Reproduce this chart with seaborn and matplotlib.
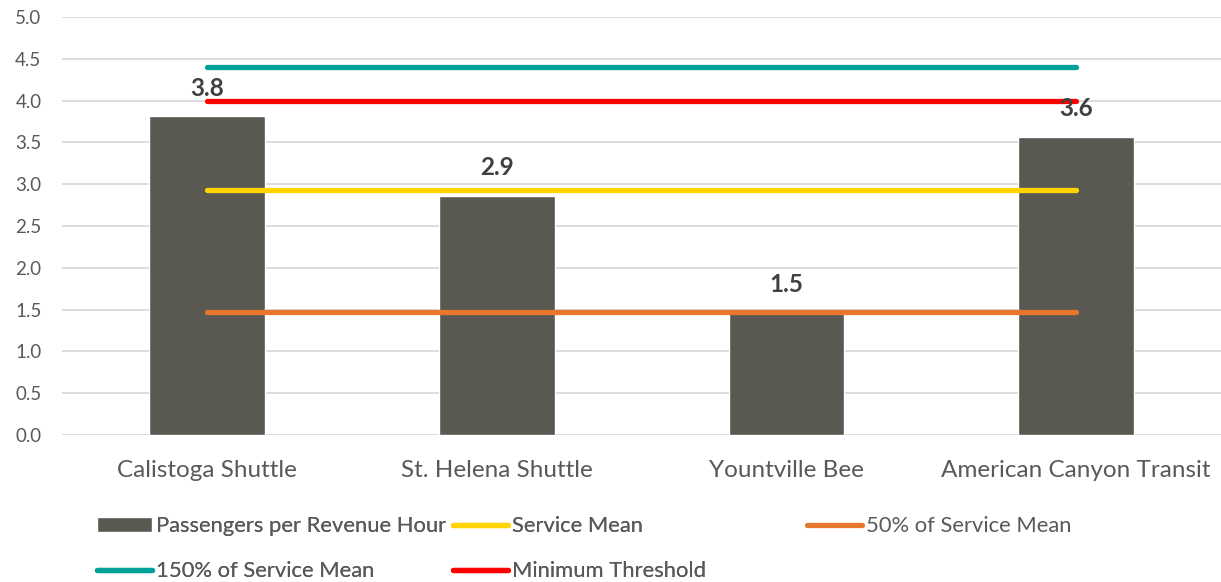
import matplotlib
matplotlib.use("Agg")
import matplotlib.pyplot as plt
import seaborn as sns
import pandas as pd

categories = ["Calistoga Shuttle", "St. Helena Shuttle", "Yountville Bee", "American Canyon Transit"]
passengers = [3.81, 2.86, 1.46, 3.57]
service_mean = 2.93
fifty_pct_mean = 1.47
one_fifty_pct_mean = 4.40
min_threshold = 4.0
y_ticks = [0.0, 0.5, 1.0, 1.5, 2.0, 2.5, 3.0, 3.5, 4.0, 4.5, 5.0]

sns.set_theme(style="white")
plt.rcParams["font.family"] = ["Lato", "DejaVu Sans"]

df = pd.DataFrame({"Service": categories, "Passengers per Revenue Hour": passengers})

fig = plt.figure(figsize=(12.21, 5.82), dpi=100)
ax = fig.add_axes([0.051, 0.2526, 0.949, 0.7182])

for t in y_ticks:
    ax.axhline(t, color="#d9d9d9", lw=1.3, zorder=0)

sns.barplot(data=df, x="Service", y="Passengers per Revenue Hour", color="#595951",
            width=0.4, saturation=1, ax=ax, zorder=2)

xs = list(range(len(categories)))
lines = [
    ("150% of Service Mean", one_fifty_pct_mean, "#00a19a"),
    ("Service Mean", service_mean, "#ffd400"),
    ("Minimum Threshold", min_threshold, "#ff0000"),
    ("50% of Service Mean", fifty_pct_mean, "#e8772e"),
]
handles = {}
for name, val, col in lines:
    h, = ax.plot(xs, [val] * len(xs), color=col, lw=3.8, solid_capstyle="round", zorder=3)
    handles[name] = h

for x, v in zip(xs, passengers):
    ax.annotate(f"{v:.1f}", (x, v), xytext=(0, 20.5), textcoords="offset points",
                ha="center", va="center", fontsize=17.5, fontweight="bold", color="#404040", zorder=4)

ax.set_xlim(-0.5, 3.5)
ax.set_ylim(0, 5.0)
ax.set_yticks(y_ticks)
ax.set_yticklabels([f"{t:.1f}" for t in y_ticks])
ax.set_xlabel("")
ax.set_ylabel("")
for s in ax.spines.values():
    s.set_visible(False)
ax.tick_params(axis="y", length=0, pad=15, labelsize=13.5, labelcolor="#595959")
ax.tick_params(axis="x", length=0, pad=18, labelsize=17.5, labelcolor="#595959")

bar_handle = ax.patches[0]
leg_fs = 15.8
anchor_y = 0.113
common = dict(loc="upper left", frameon=False, fontsize=leg_fs, handletextpad=0.18,
              handlelength=2.5, labelspacing=1.15, borderaxespad=0, borderpad=0,
              labelcolor="#595959")
leg1 = fig.legend([bar_handle, handles["150% of Service Mean"]],
                  ["Passengers per Revenue Hour", "150% of Service Mean"],
                  bbox_to_anchor=(97 / 1221, anchor_y), **common)
fig.add_artist(leg1)
leg2 = fig.legend([handles["Service Mean"], handles["Minimum Threshold"]],
                  ["Service Mean", "Minimum Threshold"],
                  bbox_to_anchor=(453 / 1221, anchor_y), **common)
fig.add_artist(leg2)
leg3 = fig.legend([handles["50% of Service Mean"]], ["50% of Service Mean"],
                  bbox_to_anchor=(807 / 1221, anchor_y), **common)

fig.savefig("out.png", dpi=100)
